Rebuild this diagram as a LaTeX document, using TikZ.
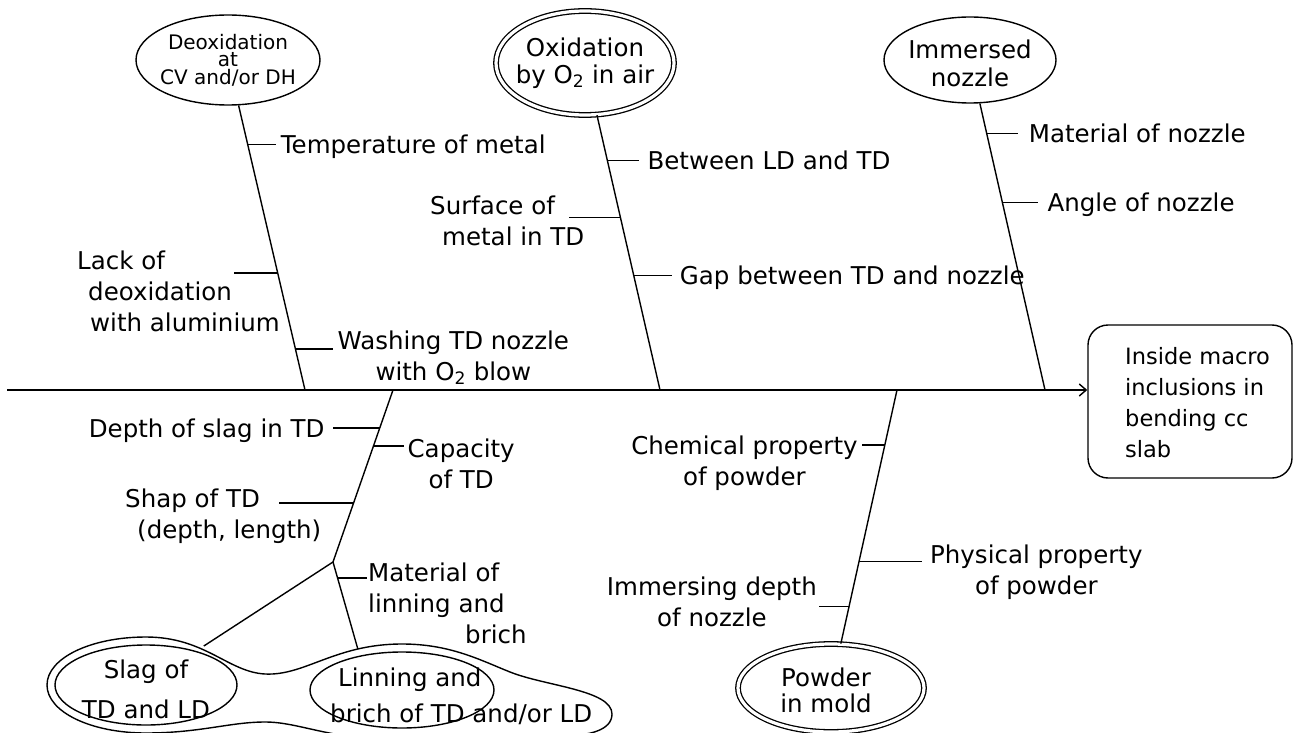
\documentclass[tikz,border=0pt]{standalone}
\usepackage{fontspec}
\setmainfont{DejaVu Sans}
\usetikzlibrary{shapes.geometric,arrows.meta,calc}
\begin{document}
\begin{tikzpicture}[x=1pt,y=-1pt,
  every node/.style={inner sep=0pt},
  lbl/.style={font=\fontsize{24.5}{31}\selectfont},
  bone/.style={line width=1.4pt},
  tickline/.style={line width=1.4pt},
  ell/.style={draw, ellipse, line width=1.4pt, inner sep=0pt},
  dell/.style={draw, ellipse, double, double distance=3.2pt, line width=1.3pt, inner sep=0pt},
]
\useasboundingbox (0,0) rectangle (1301,733);

% ---------- head box ----------
\node[draw, rectangle, rounded corners=20pt, line width=1.4pt,
      minimum width=204pt, minimum height=153pt] (B) at (1190,401.5) {};
\node[lbl, font=\fontsize{22.5}{31}\selectfont, align=left, anchor=north west]
  (Bt) at (1125,347) {Inside macro\\inclusions in\\bending cc\\slab};

% ---------- spine ----------
\coordinate (sp0) at (7,390);
\draw[bone, -{Straight Barb[length=7pt,width=12pt]}] (sp0) -- (sp0 -| B.west);

\coordinate (s1) at (305,390);
\coordinate (s2) at (660,390);
\coordinate (s3) at (1045,390);
\coordinate (s4) at (393,390);
\coordinate (s5) at (897,390);
\coordinate (sp) at (333,562);

% ---------- top causes ----------
\node[ell, minimum width=184pt, minimum height=90pt] (E1) at (228,60) {};
\node[font=\fontsize{20}{17.5}\selectfont, align=center] (E1t) at (E1.center)
  {Deoxidation\\at\\CV and/or DH};

\node[dell, minimum width=178pt, minimum height=104pt] (E2) at (585,63) {};
\node[font=\fontsize{24.5}{27}\selectfont, align=center] (E2t) at (E2.center)
  {Oxidation\\by O\textsubscript{2} in air};

\node[ell, minimum width=172pt, minimum height=86pt] (E3) at (970,60) {};
\node[font=\fontsize{24.5}{28}\selectfont, align=center] (E3t) at ([yshift=-3pt]E3.center)
  {Immersed\\nozzle};

% bone 1
\draw[bone] (E1) -- (s1) coordinate[pos=0.137] (t11) coordinate[pos=0.589] (t12)
  coordinate[pos=0.856] (t13);
\draw[tickline] (t11) -- ++(28,0) coordinate (k11);
\node[lbl, anchor=base west] (L11) at ($(k11)+(5,9)$) {Temperature of metal};
\draw[tickline] (t12) -- ++(-44,0) coordinate (k12);
\node[lbl, align=left, anchor=north west] (L12) at (77,250.4)
  {Lack of\\\hspace*{11pt}deoxidation\\\hspace*{13pt}with aluminium};
\draw[tickline] (t13) -- ++(38,0) coordinate (k13);
\node[lbl, align=center, anchor=north west] (L13) at ($(k13)+(4,-18.6)$)
  {Washing TD nozzle\\with O\textsubscript{2} blow};

% bone 2
\draw[bone] (E2) -- (s2) coordinate[pos=0.165] (t21) coordinate[pos=0.372] (t22)
  coordinate[pos=0.583] (t23);
\draw[tickline] (t21) -- ++(32,0) coordinate (k21);
\node[lbl, anchor=base west] (L21) at ($(k21)+(8,9)$) {Between LD and TD};
\draw[tickline] (t22) -- ++(-51,0) coordinate (k22);
\node[lbl, align=left, anchor=north west] (L22) at (430,195.4)
  {Surface of\\\hspace*{12pt}metal in TD};
\draw[tickline] (t23) -- ++(38,0) coordinate (k23);
\node[lbl, anchor=base west] (L23) at ($(k23)+(8,9)$) {Gap between TD and nozzle};

% bone 3
\draw[bone] (E3) -- (s3) coordinate[pos=0.1045] (t31) coordinate[pos=0.345] (t32);
\draw[tickline] (t31) -- ++(31,0) coordinate (k31);
\node[lbl, anchor=base west] (L31) at ($(k31)+(11,9)$) {Material of nozzle};
\draw[tickline] (t32) -- ++(36,0) coordinate (k32);
\node[lbl, anchor=base west] (L32) at ($(k32)+(9,9)$) {Angle of nozzle};

% ---------- bottom causes ----------
\node[ell, minimum width=182pt, minimum height=80pt, outer sep=8pt] (SLAG) at (146,685) {};
\node[font=\fontsize{24.5}{40}\selectfont, align=center] (SLAGt) at (146,689)
  {Slag of\\TD and LD};

\node[ell, minimum width=184pt, minimum height=76pt, outer sep=8pt] (LIN) at (402,690) {};
\node[font=\fontsize{24.5}{36}\selectfont, align=left, anchor=north west] (LINt) at (330,667.4)
  {\hspace*{8pt}Linning and\\brich of TD and/or LD};

% outer contour joining the two ellipses
\draw[line width=1.4pt]
  (47,685) .. controls (47,658) and (91,637) .. (146,637)
  .. controls (205,637) and (228,672) .. (265,674)
  .. controls (305,676) and (335,644) .. (402,644)
  .. controls (450,644) and (480,660) .. (510,672)
  .. controls (545,686) and (612,690) .. (612,714)
  .. controls (612,730) and (590,736) .. (560,736)
  .. controls (480,738) and (430,740) .. (402,740)
  .. controls (330,740) and (300,722) .. (265,722)
  .. controls (230,722) and (200,733) .. (146,733)
  .. controls (91,733) and (47,712) .. (47,685) -- cycle;

\node[dell, minimum width=186pt, minimum height=88pt] (POW) at (831,688) {};
\node[font=\fontsize{24.5}{26}\selectfont, align=center] (POWt) at (826,690)
  {Powder\\in mold};

% bone 4
\draw[bone] (s4) -- (sp) coordinate[pos=0.221] (t41) coordinate[pos=0.326] (t42)
  coordinate[pos=0.657] (t43);
\draw[tickline] (t41) -- ++(-47,0) coordinate (k41);
\node[lbl, anchor=base east] (L41) at ($(k41)+(-8,9)$) {Depth of slag in TD};
\draw[tickline] (t42) -- ++(31,0) coordinate (k42);
\node[lbl, align=center, anchor=north west] (L42) at ($(k42)+(3,-7.6)$) {Capacity\\of TD};
\draw[tickline] (t43) -- ++(-75,0) coordinate (k43);
\node[lbl, align=left, anchor=north west] (L43) at (125,488.4)
  {Shap of TD\\\hspace*{12pt}(depth, length)};

\draw[bone] (sp) -- (SLAG.34);
\draw[bone] (sp) -- (LIN.137) coordinate[pos=0.186] (t44);
\draw[tickline] (t44) -- ++(29,0) coordinate (k44);
\node[lbl, align=left, anchor=north west] (L44) at (368,562.4)
  {Material of\\linning and\\\hspace*{97pt}brich};

% bone 5
\draw[bone] (s5) -- (POW) coordinate[pos=0.217] (t51) coordinate[pos=0.677] (t52)
  coordinate[pos=0.854] (t53);
\draw[tickline] (t51) -- ++(-23,0) coordinate (k51);
\node[lbl, align=center, anchor=north east] (L51) at ($(k51)+(-4,-9.6)$)
  {Chemical property\\of powder};
\draw[tickline] (t52) -- ++(63,0) coordinate (k52);
\node[lbl, align=center, anchor=north west] (L52) at ($(k52)+(8,-16.6)$)
  {Physical property\\of powder};
\draw[tickline] (t53) -- ++(-30,0) coordinate (k53);
\node[lbl, align=center, anchor=north east] (L53) at ($(k53)+(-2,-29.6)$)
  {Immersing depth\\of nozzle};
\end{tikzpicture}
\end{document}
